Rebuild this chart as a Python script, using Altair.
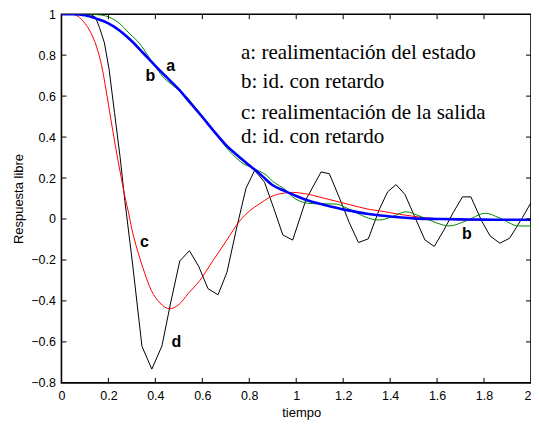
import altair as alt
import pandas as pd

# a: realimentación del estado (blue, thick)
a_t = [0, 0.05, 0.1, 0.15, 0.2, 0.25, 0.3, 0.35, 0.4, 0.45, 0.5, 0.55, 0.6, 0.65, 0.7, 0.75,
       0.8, 0.85, 0.9, 0.95, 1.0, 1.05, 1.1, 1.15, 1.2, 1.25, 1.3, 1.35, 1.4, 1.45, 1.5, 1.6,
       1.7, 1.8, 1.9, 2.0]
a_y = [1.0, 1.0, 0.995, 0.978, 0.955, 0.918, 0.868, 0.808, 0.748, 0.69, 0.633, 0.565, 0.498,
       0.428, 0.362, 0.31, 0.262, 0.215, 0.165, 0.137, 0.112, 0.09, 0.074, 0.06, 0.047, 0.036,
       0.026, 0.018, 0.012, 0.007, 0.003, 0.0, -0.002, -0.003, -0.004, -0.004]

# b: id. con retardo (green)
b_t = [0, 0.1, 0.15, 0.192, 0.241, 0.291, 0.334, 0.37, 0.405, 0.44, 0.475, 0.5, 0.532, 0.56,
       0.589, 0.63, 0.674, 0.73, 0.775, 0.815, 0.844, 0.872, 0.9, 0.957, 0.985, 1.028, 1.07,
       1.113, 1.17, 1.212, 1.269, 1.32, 1.354, 1.41, 1.467, 1.524, 1.595, 1.651, 1.722, 1.807,
       1.864, 1.949, 2.0]
b_y = [1.0, 1.0, 0.998, 0.99, 0.961, 0.904, 0.855, 0.795, 0.735, 0.685, 0.652, 0.628, 0.598,
       0.56, 0.52, 0.46, 0.39, 0.314, 0.27, 0.249, 0.233, 0.215, 0.184, 0.14, 0.108, 0.082,
       0.075, 0.074, 0.073, 0.055, 0.023, 0.0, -0.005, 0.012, 0.035, 0.015, -0.018, -0.034,
       -0.01, 0.028, 0.006, -0.034, -0.034]

# c: realimentación de la salida (red)
c_t = [0, 0.04, 0.07, 0.1, 0.125, 0.15, 0.17, 0.19, 0.21, 0.23, 0.25, 0.27, 0.285, 0.3, 0.318,
       0.346, 0.383, 0.42, 0.46, 0.501, 0.539, 0.589, 0.645, 0.702, 0.759, 0.801, 0.844, 0.886,
       0.93, 0.985, 1.028, 1.07, 1.099, 1.184, 1.269, 1.311, 1.354, 1.439, 1.552, 1.637, 1.765,
       2.0]
c_y = [1.0, 1.0, 0.99, 0.955, 0.91, 0.84, 0.755, 0.63, 0.49, 0.355, 0.23, 0.11, 0.035, -0.05,
       -0.13, -0.235, -0.349, -0.41, -0.438, -0.417, -0.365, -0.301, -0.204, -0.107, -0.01,
       0.039, 0.074, 0.105, 0.123, 0.13, 0.125, 0.116, 0.107, 0.083, 0.058, 0.047, 0.04, 0.023,
       0.006, -0.002, -0.005, -0.005]

# d: id. con retardo (black)
d_t = [0, 0.1, 0.125, 0.145, 0.162, 0.183, 0.203, 0.226, 0.25, 0.27, 0.303, 0.343, 0.385,
       0.428, 0.465, 0.504, 0.545, 0.585, 0.624, 0.667, 0.705, 0.745, 0.786, 0.823, 0.865,
       0.905, 0.943, 0.985, 1.042, 1.106, 1.141, 1.184, 1.226, 1.265, 1.307, 1.354, 1.389,
       1.425, 1.463, 1.505, 1.548, 1.588, 1.627, 1.668, 1.708, 1.744, 1.79, 1.826, 1.867,
       1.909, 1.963, 2.0]
d_y = [1.0, 1.0, 0.998, 0.985, 0.935, 0.86, 0.73, 0.52, 0.3, 0.09, -0.22, -0.622, -0.733,
       -0.62, -0.41, -0.205, -0.155, -0.232, -0.34, -0.37, -0.26, -0.05, 0.15, 0.237, 0.18,
       0.05, -0.078, -0.103, 0.096, 0.23, 0.221, 0.103, -0.018, -0.115, -0.097, 0.047, 0.132,
       0.168, 0.12, 0.01, -0.102, -0.134, -0.058, 0.03, 0.108, 0.108, -0.01, -0.083, -0.118,
       -0.094, 0.006, 0.08]

x_ticks = [0, 0.2, 0.4, 0.6, 0.8, 1, 1.2, 1.4, 1.6, 1.8, 2]
y_ticks = [-0.8, -0.6, -0.4, -0.2, 0, 0.2, 0.4, 0.6, 0.8, 1]

# curve letters
lab_text = ["a", "b", "c", "d", "b"]
lab_t = [0.465, 0.379, 0.353, 0.49, 1.727]
lab_y = [0.723, 0.675, -0.135, -0.627, -0.098]

# legend lines
leg_text = ["a: realimentación del estado", "b: id. con retardo",
            "c: realimentación de la salida", "d: id. con retardo"]
leg_t = [0.765, 0.765, 0.765, 0.765]
leg_y = [0.783, 0.641, 0.489, 0.371]

W, H = 470, 369
TL = 5

xs = alt.Scale(domain=[0, 2], nice=False, zero=False)
ys = alt.Scale(domain=[-0.8, 1], nice=False, zero=False)

xaxis = alt.Axis(values=x_ticks, format="~g", title="tiempo", grid=False, ticks=False,
                 tickSize=0, domain=False, labelPadding=7, labelFontSize=12.5,
                 labelFont="Liberation Sans", labelColor="black", labelFlush=False,
                 labelAlign=alt.ExprRef(expr="datum.value >= 2 ? 'right' : 'center'"),
                 titleFont="Liberation Sans", titleFontSize=13, titleFontWeight="normal",
                 titleColor="black", titleX=240, titleY=33.5, titleBaseline="alphabetic")
yaxis = alt.Axis(values=y_ticks, format="~g", title="Respuesta libre", grid=False, ticks=False,
                 tickSize=0, domain=False, labelPadding=6, labelFontSize=12.5,
                 labelFont="Liberation Sans", labelColor="black", labelFlush=False,
                 titleFont="Liberation Sans", titleFontSize=13, titleFontWeight="normal",
                 titleColor="black", titleX=-38.5, titleY=H / 2, titleAngle=270,
                 titleBaseline="alphabetic", titleAlign="center")


def curve(t, y, color, width, interp):
    df = pd.DataFrame({"t": t, "y": y})
    return alt.Chart(df).mark_line(color=color, strokeWidth=width, interpolate=interp,
                                   clip=True).encode(
        x=alt.X("t:Q", scale=xs, axis=xaxis),
        y=alt.Y("y:Q", scale=ys, axis=yaxis),
    )


xt_df = pd.DataFrame({"t": x_ticks[1:-1]})
yt_df = pd.DataFrame({"y": y_ticks[1:-1]})

tick_bottom = alt.Chart(xt_df).mark_rule(color="black", strokeWidth=1).encode(
    x=alt.X("t:Q", scale=xs), y=alt.value(H), y2=alt.value(H - TL))
tick_top = alt.Chart(xt_df).mark_rule(color="black", strokeWidth=1).encode(
    x=alt.X("t:Q", scale=xs), y=alt.value(0), y2=alt.value(TL))
tick_left = alt.Chart(yt_df).mark_rule(color="black", strokeWidth=1).encode(
    y=alt.Y("y:Q", scale=ys), x=alt.value(0), x2=alt.value(TL))
tick_right = alt.Chart(yt_df).mark_rule(color="black", strokeWidth=1).encode(
    y=alt.Y("y:Q", scale=ys), x=alt.value(W), x2=alt.value(W - TL))

labels = alt.Chart(pd.DataFrame({"t": lab_t, "y": lab_y, "s": lab_text})).mark_text(
    font="Liberation Sans", fontSize=16, fontWeight="bold", color="black",
    align="center", baseline="alphabetic").encode(
    x=alt.X("t:Q", scale=xs), y=alt.Y("y:Q", scale=ys), text="s:N")

legend = alt.Chart(pd.DataFrame({"t": leg_t, "y": leg_y, "s": leg_text})).mark_text(
    font="Liberation Serif", fontSize=21, color="black",
    align="left", baseline="alphabetic").encode(
    x=alt.X("t:Q", scale=xs), y=alt.Y("y:Q", scale=ys), text="s:N")

chart = alt.layer(
    curve(d_t, d_y, "#000000", 1, "linear"),
    curve(c_t, c_y, "#ff0000", 1, "monotone"),
    curve(b_t, b_y, "#008a00", 1, "monotone"),
    curve(a_t, a_y, "#0000ff", 2.6, "monotone"),
    tick_bottom, tick_top, tick_left, tick_right,
    labels, legend,
).properties(
    width=W, height=H,
    autosize=alt.AutoSizeParams(type="none"),
    padding={"left": 53.5, "top": 6, "right": 0, "bottom": 40},
    background="white",
).configure_view(stroke="black", strokeWidth=1.6)

chart.save("out.html", embed_options={"renderer": "svg", "actions": False})
